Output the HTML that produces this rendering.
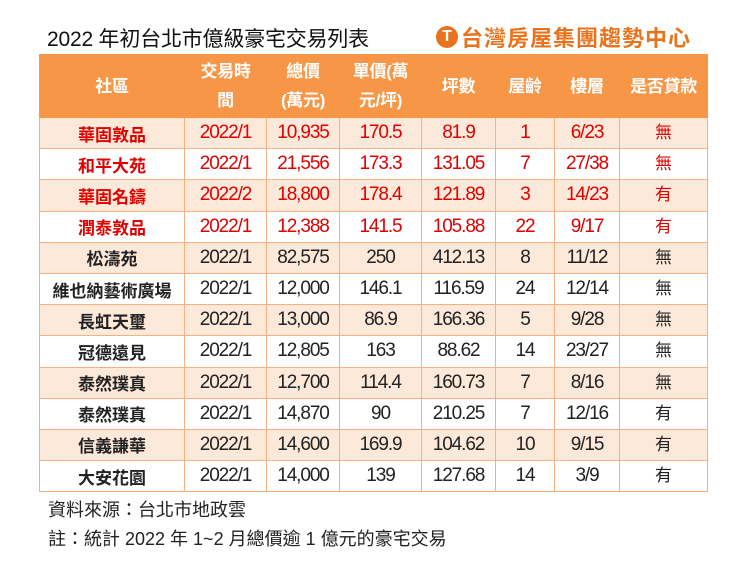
<!DOCTYPE html>
<html><head><meta charset="utf-8"><style>
body{margin:0;width:738px;height:569px;background:#fff;font-family:"Liberation Sans","Noto Sans CJK TC",sans-serif;position:relative;overflow:hidden}
.title{position:absolute;left:47px;top:23px;font-size:21px;color:#111;letter-spacing:-0.2px}
.logo{position:absolute;left:436px;top:24px;height:26px;display:flex;align-items:center;color:#e8731c;font-weight:bold;font-size:22px;letter-spacing:1px}
.logo .c{width:22px;height:22px;border-radius:50%;background:#e8731c;color:#fff;font-size:16px;display:flex;align-items:center;justify-content:center;margin-right:3px;letter-spacing:0}
table{position:absolute;left:39px;top:54px;border-collapse:collapse;table-layout:fixed;width:668px}
td,th{border:1px solid #f4b183;text-align:center;padding:0;font-size:17px}
th{background:#f79646;color:#fff;font-weight:bold;height:62px;line-height:29px;border-color:#f79646;letter-spacing:-0.3px}
td{height:30.2px;color:#222;font-size:19px;letter-spacing:-1.1px}
tr:nth-child(odd) td{background:#fde9d9}
td:first-child{font-weight:bold;font-size:17px;letter-spacing:0}
td:last-child{font-size:17px;letter-spacing:0;line-height:26px;vertical-align:middle}
tr.r td{color:#e00000}
.f{position:absolute;left:48px;font-size:18px;color:#222;letter-spacing:0px}
</style></head><body>
<div class="title">2022 年初台北市億級豪宅交易列表</div>
<div class="logo"><div class="c">T</div>台灣房屋集團趨勢中心</div>
<table>
<colgroup><col style="width:145px"><col style="width:82px"><col style="width:73px"><col style="width:82px"><col style="width:74px"><col style="width:59px"><col style="width:65px"><col style="width:88px"></colgroup>
<thead><tr><th>社區</th><th>交易時<br>間</th><th>總價<br>(萬元)</th><th>單價(萬<br>元/坪)</th><th>坪數</th><th>屋齡</th><th>樓層</th><th>是否貸款</th></tr></thead>
<tbody>
<tr class="r"><td>華固敦品</td><td>2022/1</td><td>10,935</td><td>170.5</td><td>81.9</td><td>1</td><td>6/23</td><td>無</td></tr>
<tr class="r"><td>和平大苑</td><td>2022/1</td><td>21,556</td><td>173.3</td><td>131.05</td><td>7</td><td>27/38</td><td>無</td></tr>
<tr class="r"><td>華固名鑄</td><td>2022/2</td><td>18,800</td><td>178.4</td><td>121.89</td><td>3</td><td>14/23</td><td>有</td></tr>
<tr class="r"><td>潤泰敦品</td><td>2022/1</td><td>12,388</td><td>141.5</td><td>105.88</td><td>22</td><td>9/17</td><td>有</td></tr>
<tr><td>松濤苑</td><td>2022/1</td><td>82,575</td><td>250</td><td>412.13</td><td>8</td><td>11/12</td><td>無</td></tr>
<tr><td>維也納藝術廣場</td><td>2022/1</td><td>12,000</td><td>146.1</td><td>116.59</td><td>24</td><td>12/14</td><td>無</td></tr>
<tr><td>長虹天璽</td><td>2022/1</td><td>13,000</td><td>86.9</td><td>166.36</td><td>5</td><td>9/28</td><td>無</td></tr>
<tr><td>冠德遠見</td><td>2022/1</td><td>12,805</td><td>163</td><td>88.62</td><td>14</td><td>23/27</td><td>無</td></tr>
<tr><td>泰然璞真</td><td>2022/1</td><td>12,700</td><td>114.4</td><td>160.73</td><td>7</td><td>8/16</td><td>無</td></tr>
<tr><td>泰然璞真</td><td>2022/1</td><td>14,870</td><td>90</td><td>210.25</td><td>7</td><td>12/16</td><td>有</td></tr>
<tr><td>信義謙華</td><td>2022/1</td><td>14,600</td><td>169.9</td><td>104.62</td><td>10</td><td>9/15</td><td>有</td></tr>
<tr><td>大安花園</td><td>2022/1</td><td>14,000</td><td>139</td><td>127.68</td><td>14</td><td>3/9</td><td>有</td></tr>
</tbody></table>
<div class="f" style="top:496px">資料來源：台北市地政雲</div>
<div class="f" style="top:525px">註：統計 2022 年 1~2 月總價逾 1 億元的豪宅交易</div>
</body></html>
